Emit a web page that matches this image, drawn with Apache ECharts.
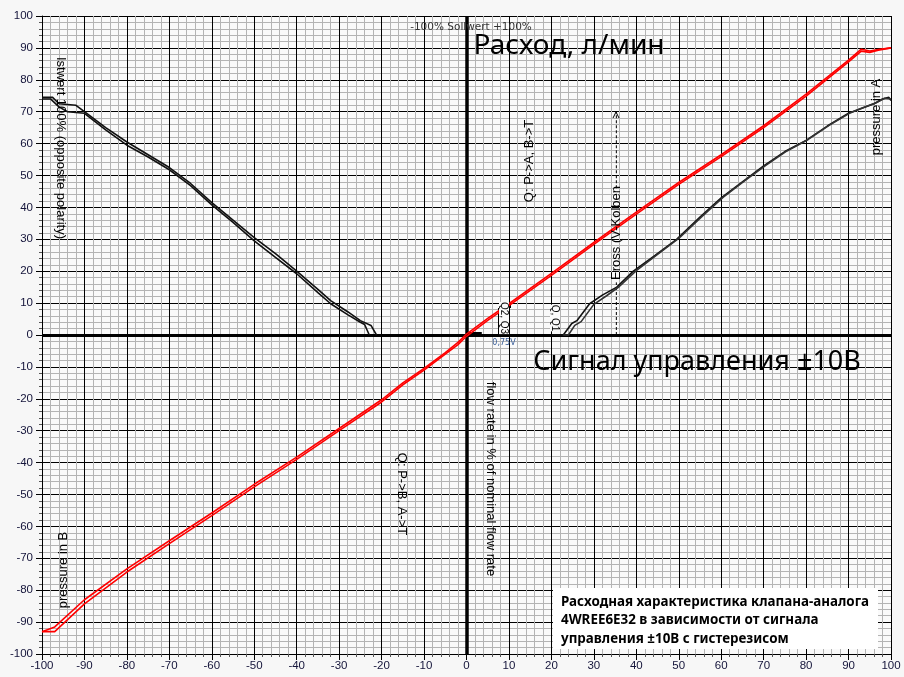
<!DOCTYPE html>
<html>
<head>
<meta charset="utf-8">
<script src="https://cdn.jsdelivr.net/npm/echarts@6/dist/echarts.min.js"></script>
<style>
html,body{margin:0;padding:0;background:#f7f7f7;}
#chart{width:904px;height:677px;}
</style>
</head>
<body>
<div id="chart"></div>
<script>
// ---- data ----
var axisTicks = [-100,-90,-80,-70,-60,-50,-40,-30,-20,-10,0,10,20,30,40,50,60,70,80,90,100];

var redUpX = [-100,-97,-90,-80,-70,-60,-50,-40,-30,-20,-15,-10,-5,-2,0,5,10,20,30,40,50,60,70,80,90,93,95,97,100];
var redUpY = [-93,-91.5,-83,-73.3,-64.5,-55.8,-46.8,-38.3,-29.3,-20.3,-15,-10.5,-5.5,-2.3,0.3,5.2,9.8,19.3,29,38.5,47.8,56.5,65.6,75.5,86.2,89.6,89,89.5,90];
var redDnX = [-100,-97,-90,-80,-70,-60,-50,-40,-30,-20,-15,-10,-5,-2,0,5,10,20,30,40,50,60,70,80,90,93,95,97,100];
var redDnY = [-93,-93,-84.3,-74.3,-65.4,-56.6,-47.6,-39,-30,-21,-15.6,-11,-6,-3,-0.4,4.6,9.2,18.7,28.4,37.9,47.2,55.9,65,74.9,85.6,89,88.6,89.3,90];

var blkLeftAX = [-100,-97.5,-96,-92,-90,-85,-80,-75,-70,-65,-60,-55,-50,-45,-40,-35,-32,-28,-25,-22.5,-21.2];
var blkLeftAY = [74.5,74.5,72.5,72,70,65,60.5,56.5,52.5,47.5,41.5,36,30.5,25.5,20,14.3,10.8,7.3,4.5,3,0];
var blkLeftBX = [-100,-98,-96,-94,-90,-85,-80,-75,-70,-65,-60,-55,-50,-45,-40,-35,-32,-28,-25,-24,-22.9];
var blkLeftBY = [74,74,71.5,70,69.5,64.3,59.5,55.8,51.8,46.8,40.8,35.3,29.5,24.3,19.2,13.3,9.8,6.4,4,3.3,0];

var blkRightAX = [20,22.8,24.8,26,29,32,35.4,39.3,44.5,49.5,55,60,65,70,75,80,85,90,93,96,98,99.5,100];
var blkRightAY = [0,0,3.6,4.5,9.8,12.5,15,20,25,30,37,43,48,53,57.5,61,65.5,69.5,71,72.5,74,74.5,73.5];
var blkRightBX = [22.8,24,25.5,27,30,33,36,40,45,50,55.5,60.5,65.5,70.5,75.5,80.5,85.5,90.5,93.5,96.5,98.5,100];
var blkRightBY = [0,0,3,4.2,9.6,12.3,15.2,20.2,25.3,30.3,37.2,43.2,48.3,53.2,57.7,61.3,65.8,69.7,71.3,72.8,74.2,74];

// dashed marker line at x = 35.3 (broken where its label sits)
var dashLowX = [35.3,35.3];
var dashLowY = [0,16.5];
var dashHighX = [35.3,35.3];
var dashHighY = [46,70];

function pairs(xs, ys){ return xs.map(function(x,i){ return [x, ys[i]]; }); }

var labelFont = 'Liberation Sans';
var chart = echarts.init(document.getElementById('chart'), null, {renderer:'canvas'});

function axisCommon(){
  return {
    type:'value', min:-100, max:100, interval:10,
    axisLine:{show:true, onZero:false, lineStyle:{color:'#000', width:1}},
    axisTick:{show:true, length:6, lineStyle:{color:'#000'}},
    minorTick:{show:true, splitNumber:5, length:3, lineStyle:{color:'#555'}},
    splitLine:{show:true, lineStyle:{color:'#000', width:1}},
    minorSplitLine:{show:true, lineStyle:{color:'#b4b4b4', width:1}},
    axisLabel:{color:'#14143a', fontFamily:labelFont, fontSize:11.5,
      formatter:function(v){ return axisTicks.indexOf(v) >= 0 ? String(v) : ''; }}
  };
}
var xAx = axisCommon(); xAx.axisLabel.margin = 6;
var yAx = axisCommon(); yAx.axisLabel.margin = 9;

function lineSeries(data, color, w){
  return {type:'line', data:data, showSymbol:false, symbol:'none', smooth:false,
    lineStyle:{color:color, width:w}, z:5, silent:true, animation:false};
}
function dashSeries(data){
  return {type:'line', data:data, showSymbol:false, symbol:'none',
    lineStyle:{color:'#000', width:1, type:[3,2]}, z:4, silent:true};
}

var option = {
  animation:false,
  backgroundColor:'#f7f7f7',
  grid:{left:42, right:13, top:16, bottom:23, show:true, backgroundColor:'#fafafa', borderWidth:0},
  xAxis:xAx,
  yAxis:yAx,
  series:[
    {type:'line', data:[[0,0]], showSymbol:false, symbol:'none', lineStyle:{width:0}, z:3, silent:true,
      markLine:{silent:true, symbol:['none','none'], label:{show:false}, animation:false,
        data:[
          {xAxis:0, lineStyle:{color:'#000', width:3.5, type:'solid'}},
          {yAxis:0, lineStyle:{color:'#000', width:3, type:'solid'}},
          [{coord:[7.5,0]},{coord:[7.5,8.5]}],
          [{coord:[7.5,0]},{coord:[10.6,0]}],
          [{coord:[10.3,8.5]},{coord:[10.3,10]}],
          [{coord:[0,0.6]},{coord:[3.6,0.6]}]
        ],
        lineStyle:{color:'#000', width:2, type:'solid'}}
    },
    dashSeries(pairs(dashLowX, dashLowY)),
    dashSeries(pairs(dashHighX, dashHighY)),
    lineSeries(pairs(blkLeftAX, blkLeftAY), '#111', 1.6),
    lineSeries(pairs(blkLeftBX, blkLeftBY), '#111', 1.6),
    lineSeries(pairs(blkRightAX, blkRightAY), '#111', 1.6),
    lineSeries(pairs(blkRightBX, blkRightBY), '#333', 1.6),
    lineSeries(pairs(redUpX, redUpY), '#ff0000', 1.6),
    lineSeries(pairs(redDnX, redDnY), '#ff0000', 1.6)
  ],
  graphic:[
    {type:'text', x:471, y:27, z:20, style:{text:'-100% Sollwert +100%', font:'10.5px "DejaVu Sans"', fill:'#333', align:'center', verticalAlign:'middle'}},
    {type:'text', x:569, y:46, z:20, style:{text:'Расход, л/мин', font:'28px "Noto Sans"', fill:'#000', align:'center', verticalAlign:'middle'}},
    {type:'text', x:697, y:362, z:20, style:{text:'Сигнал управления ±10В', font:'27px "Noto Sans"', fill:'#000', align:'center', verticalAlign:'middle'}},
    {type:'text', x:61, y:148, rotation:-Math.PI/2, z:20, style:{text:'Istwert 100% (opposite polarity)', font:'13px "Liberation Sans"', fill:'#000', align:'center', verticalAlign:'middle'}},
    {type:'text', x:529, y:161, rotation:Math.PI/2, z:20, style:{text:'Q: P->A, B->T', font:'13px "Liberation Sans"', fill:'#000', align:'center', verticalAlign:'middle'}},
    {type:'text', x:402, y:494, rotation:-Math.PI/2, z:20, style:{text:'Q: P->B, A->T', font:'13px "Liberation Sans"', fill:'#000', align:'center', verticalAlign:'middle'}},
    {type:'text', x:491, y:479, rotation:-Math.PI/2, z:20, style:{text:'flow rate in % of nominal flow rate', font:'13px "Liberation Sans"', fill:'#000', align:'center', verticalAlign:'middle'}},
    {type:'text', x:63, y:570, rotation:Math.PI/2, z:20, style:{text:'pressure in B', font:'13px "Liberation Sans"', fill:'#000', align:'center', verticalAlign:'middle'}},
    {type:'text', x:876, y:117, rotation:Math.PI/2, z:20, style:{text:'pressure in A', font:'13px "Liberation Sans"', fill:'#000', align:'center', verticalAlign:'middle'}},
    {type:'text', x:616, y:233, rotation:Math.PI/2, z:20, style:{text:'Eross (V-Kolben', font:'13px "Liberation Sans"', fill:'#000', align:'center', verticalAlign:'middle'}},
    {type:'polyline', z:20, shape:{points:[[613,118],[616,112],[619,118]]}, style:{stroke:'#000', lineWidth:1, fill:null}},
    {type:'text', x:555, y:318, rotation:-Math.PI/2, z:20, style:{text:'Q, Q1', font:'10px "Liberation Sans"', fill:'#000', align:'center', verticalAlign:'middle', backgroundColor:'#fafafa'}},
    {type:'text', x:504, y:318, rotation:-Math.PI/2, z:20, style:{text:'Q2, Q3', font:'10px "Liberation Sans"', fill:'#000', align:'center', verticalAlign:'middle', backgroundColor:'#fafafa'}},
    {type:'text', x:504, y:343, z:20, style:{text:'0,75V', font:'8px "DejaVu Sans"', fill:'#3a5f9a', align:'center', verticalAlign:'middle'}},
    {type:'rect', z:19, shape:{x:553, y:588, width:325, height:61}, style:{fill:'#ffffff'}},
    {type:'text', x:561, y:602, z:20, style:{text:'Расходная характеристика клапана-аналога', font:'bold 13.4px "Noto Sans"', fill:'#000', align:'left', verticalAlign:'middle'}},
    {type:'text', x:561, y:620, z:20, style:{text:'4WREE6E32 в зависимости от сигнала', font:'bold 13.4px "Noto Sans"', fill:'#000', align:'left', verticalAlign:'middle'}},
    {type:'text', x:561, y:639, z:20, style:{text:'управления ±10В с гистерезисом', font:'bold 13.4px "Noto Sans"', fill:'#000', align:'left', verticalAlign:'middle'}}
  ]
};
chart.setOption(option);
</script>
</body>
</html>
